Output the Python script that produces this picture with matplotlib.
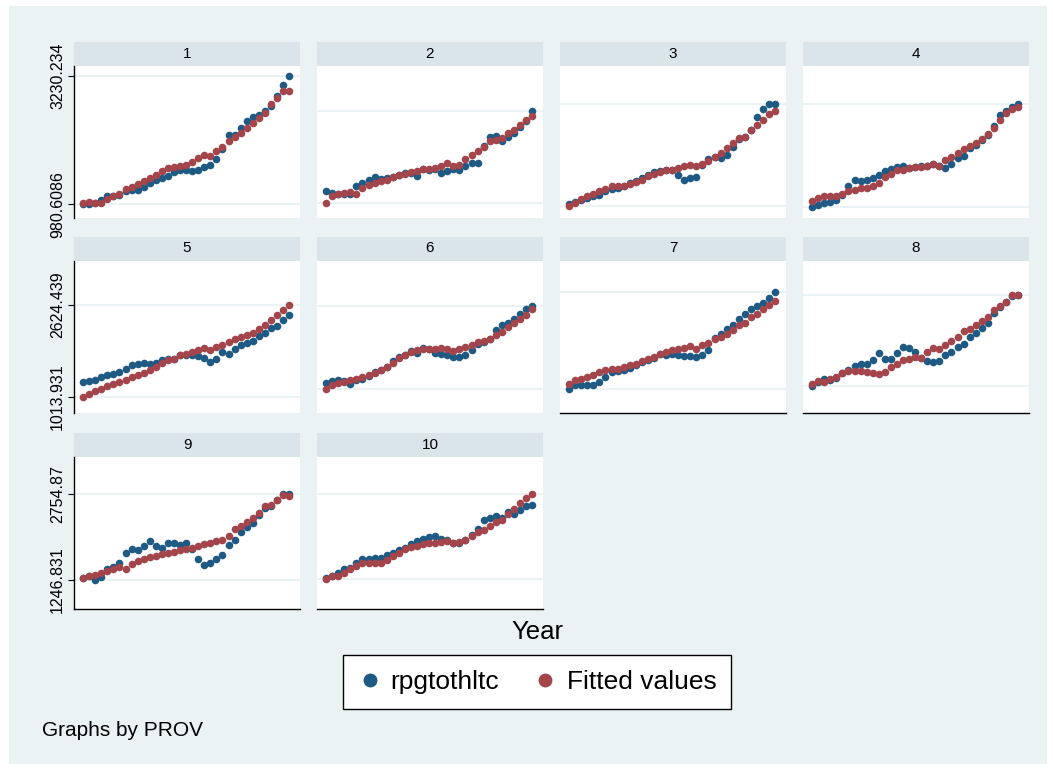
import matplotlib
matplotlib.use("Agg")
import matplotlib.pyplot as plt
from matplotlib.patches import Rectangle
from matplotlib.lines import Line2D

plt.rcParams['font.family'] = ['Liberation Sans', 'DejaVu Sans']

years = list(range(1980, 2015))
provinces = ["1", "2", "3", "4", "5", "6", "7", "8", "9", "10"]

# rpgtothltc by province
rpg1 = [980.6086, 990, 995, 1045, 1115, 1127, 1144, 1202, 1232, 1220, 1278, 1348, 1395, 1436, 1465,
        1535, 1570, 1572, 1564, 1581, 1628, 1669, 1768, 1943, 2182, 2193, 2310, 2427, 2514, 2543,
        2602, 2701, 2876, 3068, 3230.234]
rpg2 = [1202, 1173, 1162, 1160, 1165, 1290, 1348, 1395, 1447, 1418, 1436, 1447, 1494, 1523, 1523,
        1476, 1593, 1570, 1593, 1523, 1552, 1593, 1581, 1640, 1698, 1700, 2001, 2153, 2176, 2094,
        2164, 2223, 2328, 2427, 2613]
rpg3 = [981, 1010, 1057, 1086, 1115, 1144, 1202, 1243, 1261, 1290, 1348, 1377, 1436, 1494, 1535,
        1552, 1570, 1572, 1494, 1406, 1436, 1447, 1669, 1768, 1814, 1785, 1844, 1978, 2129, 2164,
        2281, 2502, 2642, 2736, 2730]
rpg4 = [922, 969, 998, 1016, 1057, 1144, 1290, 1395, 1377, 1406, 1436, 1494, 1552, 1593, 1622,
        1640, 1610, 1622, 1640, 1645, 1681, 1640, 1610, 1686, 1785, 1826, 1961, 2019, 2106, 2193,
        2351, 2543, 2613, 2689, 2736]
rpg5 = [1271, 1288, 1300, 1358, 1387, 1417, 1446, 1504, 1574, 1591, 1603, 1591, 1603, 1650, 1667,
        1670, 1749, 1750, 1745, 1726, 1691, 1621, 1679, 1795, 1766, 1842, 1924, 1959, 1982, 2075,
        2134, 2215, 2250, 2349, 2448]
rpg6 = [1259, 1282, 1300, 1282, 1242, 1300, 1329, 1376, 1446, 1475, 1533, 1632, 1708, 1749, 1807,
        1784, 1866, 1854, 1784, 1766, 1737, 1708, 1705, 1749, 1825, 1941, 1970, 2029, 2174, 2274,
        2309, 2379, 2466, 2542, 2600]
rpg7 = [1154, 1224, 1228, 1212, 1224, 1271, 1358, 1446, 1457, 1475, 1516, 1574, 1621, 1650, 1691,
        1766, 1749, 1766, 1749, 1726, 1722, 1708, 1749, 1825, 2040, 2116, 2204, 2274, 2379, 2466,
        2553, 2600, 2658, 2740, 2845]
rpg8 = [1201, 1271, 1329, 1300, 1341, 1434, 1475, 1551, 1591, 1595, 1650, 1784, 1679, 1667, 1784,
        1883, 1866, 1795, 1691, 1632, 1621, 1632, 1737, 1795, 1883, 1941, 2058, 2134, 2215, 2309,
        2483, 2583, 2670, 2775, 2787]
rpg9 = [1287, 1316, 1246.831, 1305, 1432, 1479, 1548, 1711, 1780, 1769, 1838, 1925, 1838, 1809, 1896,
        1885, 1850, 1896, 1780, 1606, 1502, 1537, 1606, 1676, 1850, 1954, 2082, 2175, 2244, 2389,
        2505, 2546, 2650, 2754.87, 2742]
rpg10 = [1287, 1316, 1363, 1432, 1461, 1548, 1618, 1615, 1635, 1638, 1676, 1711, 1769, 1809, 1867,
         1925, 1966, 2001, 2012, 1966, 1943, 1896, 1885, 1943, 2041, 2140, 2291, 2331, 2360, 2331,
         2430, 2407, 2465, 2546, 2564]

# Fitted values by province
fit1 = [995, 1010, 998, 1000, 1068, 1115, 1162, 1243, 1278, 1336, 1377, 1436, 1494, 1552, 1610,
        1628, 1640, 1663, 1710, 1785, 1844, 1826, 1902, 1978, 2094, 2152, 2223, 2310, 2398, 2485,
        2584, 2736, 2835, 2969, 2966]
fit2 = [998, 1127, 1162, 1173, 1185, 1162, 1261, 1319, 1348, 1377, 1406, 1453, 1494, 1511, 1535,
        1552, 1593, 1595, 1610, 1651, 1698, 1640, 1669, 1768, 1844, 1902, 1978, 2077, 2106, 2135,
        2223, 2281, 2368, 2456, 2526]
fit3 = [952, 998, 1068, 1127, 1162, 1202, 1249, 1290, 1302, 1296, 1336, 1360, 1406, 1476, 1511,
        1535, 1570, 1581, 1610, 1651, 1669, 1640, 1686, 1727, 1814, 1884, 1960, 2048, 2135, 2164,
        2281, 2368, 2456, 2561, 2613]
fit4 = [1027, 1086, 1115, 1118, 1127, 1162, 1202, 1232, 1261, 1265, 1290, 1348, 1453, 1511, 1570,
        1581, 1610, 1622, 1625, 1640, 1686, 1640, 1745, 1814, 1884, 1943, 2001, 2048, 2118, 2211,
        2310, 2456, 2584, 2654, 2689]
fit5 = [1013.931, 1067, 1108, 1154, 1201, 1242, 1271, 1300, 1358, 1399, 1434, 1475, 1533, 1609, 1650,
        1679, 1737, 1766, 1795, 1825, 1866, 1825, 1883, 1924, 1970, 2017, 2058, 2099, 2134, 2204,
        2274, 2349, 2448, 2524, 2624.439]
fit6 = [1154, 1224, 1259, 1271, 1300, 1329, 1358, 1399, 1434, 1475, 1533, 1609, 1691, 1749, 1795,
        1825, 1854, 1856, 1852, 1866, 1854, 1807, 1854, 1883, 1924, 1970, 1982, 2029, 2087, 2145,
        2233, 2309, 2379, 2448, 2542]
fit7 = [1242, 1300, 1317, 1358, 1399, 1446, 1475, 1492, 1504, 1533, 1562, 1591, 1632, 1667, 1708,
        1766, 1795, 1825, 1842, 1866, 1900, 1854, 1912, 1959, 2017, 2058, 2116, 2174, 2262, 2309,
        2408, 2466, 2553, 2623, 2682]
fit8 = [1242, 1282, 1271, 1317, 1358, 1434, 1457, 1460, 1457, 1446, 1434, 1417, 1446, 1533, 1591,
        1650, 1679, 1708, 1691, 1795, 1866, 1854, 1924, 1982, 2058, 2157, 2204, 2274, 2332, 2408,
        2524, 2600, 2670, 2798, 2787]
fit9 = [1285, 1316, 1328, 1363, 1403, 1444, 1479, 1444, 1519, 1577, 1618, 1653, 1664, 1693, 1722,
        1734, 1769, 1792, 1809, 1838, 1867, 1885, 1925, 1954, 2024, 2140, 2186, 2256, 2331, 2418,
        2534, 2563, 2639, 2737, 2708]
fit10 = [1258, 1316, 1320, 1374, 1444, 1490, 1537, 1548, 1550, 1537, 1595, 1664, 1711, 1780, 1827,
         1838, 1867, 1885, 1896, 1908, 1925, 1885, 1908, 1954, 2024, 2082, 2128, 2198, 2256, 2302,
         2407, 2488, 2592, 2679, 2749]

rpg_all = [rpg1, rpg2, rpg3, rpg4, rpg5, rpg6, rpg7, rpg8, rpg9, rpg10]
fit_all = [fit1, fit2, fit3, fit4, fit5, fit6, fit7, fit8, fit9, fit10]

NAVY = '#1E5A84'
MAROON = '#A3454B'
BG = '#EAF2F3'
STRIP = '#D9E5E9'

W, H = 1053, 770
fig = plt.figure(figsize=(W / 100, H / 100), dpi=100)
fig.patch.set_facecolor('white')
fig.patches.append(Rectangle((9 / W, 1 - 764 / H), (1047 - 9) / W, (764 - 6) / H,
                             transform=fig.transFigure, facecolor=BG, edgecolor='none', zorder=-10))

col_left = [74, 317, 560, 803]
row_top = [42, 236.5, 433]
pw, sh, ph = 226, 24, 152
ncols = 4
nrows_in_col = [3, 3, 2, 2]

def fmt(v):
    return '%.7g' % v

for k, prov in enumerate(provinces):
    r, c = divmod(k, ncols)
    x0 = col_left[c]
    top = row_top[r]
    # strip with panel title
    sax = fig.add_axes([x0 / W, 1 - (top + sh) / H, pw / W, sh / H])
    sax.set_facecolor(STRIP)
    sax.set_xticks([]); sax.set_yticks([])
    for s in sax.spines.values():
        s.set_visible(False)
    sax.text(0.5, 0.5, prov, ha='center', va='center', fontsize=11, transform=sax.transAxes)

    ax = fig.add_axes([x0 / W, 1 - (top + sh + ph) / H, pw / W, ph / H])
    ax.set_facecolor('white')
    ys_b = rpg_all[k]
    ys_r = fit_all[k]
    lo = min(min(ys_b), min(ys_r))
    hi = max(max(ys_b), max(ys_r))
    for g in (lo, hi):
        ax.axhline(g, color=BG, lw=1.3, zorder=1)
    ax.scatter(years, ys_b, s=30, color=NAVY, linewidths=0, zorder=3)
    ax.scatter(years, ys_r, s=30, color=MAROON, linewidths=0, zorder=4)
    ax.set_xlim(1978.5, 2015.8)
    ax.set_ylim(738, 3398)
    ax.set_xticks([])
    for s in ax.spines.values():
        s.set_visible(False)
    if c == 0:
        ax.spines['left'].set_visible(True)
        ax.spines['left'].set_color('black')
        ax.spines['left'].set_linewidth(1.0)
        ax.set_yticks([lo, hi])
        ax.set_yticklabels([fmt(lo), fmt(hi)], rotation=90, va='center', fontsize=11.5)
        ax.tick_params(axis='y', length=4.5, width=0.8, pad=2)
    else:
        ax.set_yticks([])
    if r == nrows_in_col[c] - 1:
        ax.spines['bottom'].set_visible(True)
        ax.spines['bottom'].set_color('black')
        ax.spines['bottom'].set_linewidth(1.0)

fig.text(537 / W, 1 - 632 / H, 'Year', ha='center', va='center', fontsize=18.5)

handles = [Line2D([], [], marker='o', linestyle='none', markersize=10, color=NAVY, markeredgewidth=0),
           Line2D([], [], marker='o', linestyle='none', markersize=10, color=MAROON, markeredgewidth=0)]
leg = fig.legend(handles, ['rpgtothltc', 'Fitted values'], loc='center',
                 bbox_to_anchor=(537 / W, 1 - 682 / H), ncol=2, fontsize=19,
                 frameon=True, fancybox=False, edgecolor='black', facecolor='white',
                 framealpha=1, handletextpad=0.35, columnspacing=1.3, borderpad=0.55,
                 handlelength=0.9, borderaxespad=0)
leg.get_frame().set_linewidth(1.0)

fig.text(42 / W, 1 - 731 / H, 'Graphs by PROV', ha='left', va='center', fontsize=15)

fig.savefig('out.png', dpi=100)
